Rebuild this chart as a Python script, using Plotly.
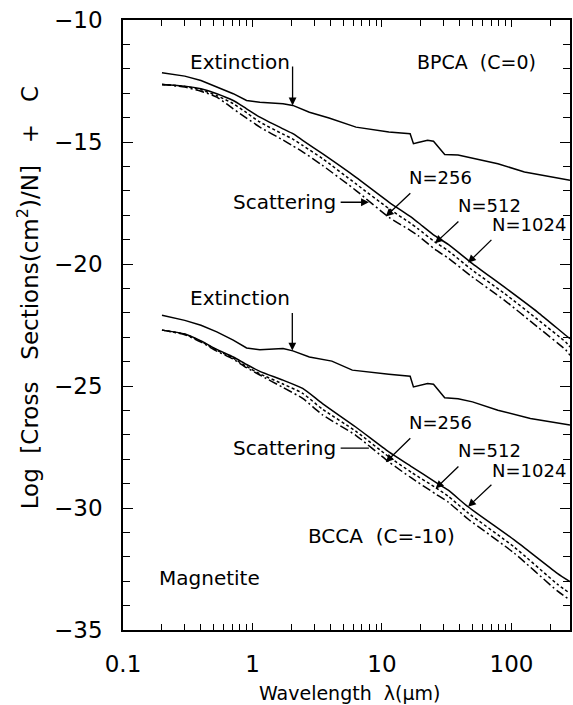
import numpy as np
import plotly.graph_objects as go

# ---- Magnetite aggregates: log10[cross section (cm^2) / N] + C ----
# BPCA (C = 0)
lam_ext_bpca = [0.2, 0.3, 0.4, 0.53, 0.71, 0.9, 1.14, 1.72, 2.05, 2.75, 3.9, 6.3, 11.3,
                16.5, 17.5, 19.0, 22.5, 25.0, 30.5, 38.7, 50.0, 78.5, 126.0, 283.0]
ext_bpca = [-12.16, -12.30, -12.48, -12.75, -13.02, -13.30, -13.37, -13.43, -13.50, -13.78,
            -14.02, -14.39, -14.59, -14.66, -15.07, -15.02, -14.93, -14.97, -15.51, -15.53,
            -15.65, -15.89, -16.23, -16.57]

lam_sca_bpca = [0.2, 0.3, 0.4, 0.53, 0.71, 0.9, 1.14, 1.72, 2.05, 2.44, 3.47, 6.27, 11.3,
                16.5, 19.0, 25.7, 32.5, 49.0, 88.4, 159.0, 262.0, 283.0]
sca_bpca_1024 = [-12.64, -12.71, -12.82, -13.02, -13.30, -13.64, -13.98, -14.46, -14.66, -14.93,
                 -15.48, -16.44, -17.46, -18.05, -18.30, -18.85, -19.20, -19.95, -20.95, -21.97,
                 -22.92, -23.06]
sca_bpca_512 = [-12.64, -12.72, -12.86, -13.10, -13.43, -13.80, -14.18, -14.68, -14.88, -15.14,
                -15.68, -16.71, -17.73, -18.32, -18.56, -19.10, -19.46, -20.22, -21.21, -22.27,
                -23.20, -23.40]
sca_bpca_256 = [-12.64, -12.75, -12.92, -13.16, -13.64, -14.02, -14.39, -14.92, -15.16, -15.40,
                -15.96, -16.98, -18.08, -18.62, -18.84, -19.40, -19.76, -20.50, -21.49, -22.58,
                -23.52, -23.74]

# BCCA (C = -10)
lam_ext_bcca = [0.2, 0.3, 0.4, 0.53, 0.71, 0.9, 1.14, 1.72, 2.05, 2.75, 4.1, 5.9, 11.3,
                16.5, 17.5, 19.0, 22.5, 25.0, 30.5, 38.7, 50.0, 78.5, 140.0, 283.0]
ext_bcca = [-22.10, -22.31, -22.51, -22.78, -23.12, -23.44, -23.51, -23.46, -23.56, -23.81,
            -23.98, -24.35, -24.52, -24.60, -25.04, -25.00, -24.90, -24.93, -25.48, -25.52,
            -25.65, -25.99, -26.33, -26.60]

lam_sca_bcca = [0.2, 0.3, 0.4, 0.53, 0.71, 0.9, 1.14, 1.72, 2.44, 3.47, 6.27, 11.3,
                17.0, 25.7, 32.5, 46.2, 105.0, 226.0, 283.0]
sca_bcca_1024 = [-22.71, -22.87, -23.15, -23.50, -23.81, -24.12, -24.40, -24.76, -25.10, -25.72,
                 -26.68, -27.70, -28.31, -28.93, -29.27, -29.95, -31.31, -32.68, -33.02]
sca_bcca_512 = [-22.71, -22.88, -23.17, -23.53, -23.86, -24.20, -24.50, -24.92, -25.30, -25.95,
                -26.85, -27.90, -28.55, -29.15, -29.52, -30.20, -31.60, -33.12, -33.50]
sca_bcca_256 = [-22.71, -22.90, -23.20, -23.57, -23.90, -24.25, -24.55, -25.06, -25.51, -26.18,
                -27.02, -28.11, -28.78, -29.41, -29.76, -30.45, -31.85, -33.40, -33.77]

# ---- axis ticks ----
x_major = [0.1, 1, 10, 100]
x_major_text = ["0.1", "1", "10", "100"]
x_minor = [m * d for d in (0.1, 1, 10) for m in range(2, 10)] + [200]
y_major = [-35, -30, -25, -20, -15, -10]
y_major_text = ["\u221235", "\u221230", "\u221225", "\u221220", "\u221215", "\u221210"]

FONT = "DejaVu Sans"
INK = "black"

fig = go.Figure()

dash_512 = "3px,2.5px"
dash_256 = "9px,3px,2px,3px"

def add_curve(lam, val, dash, smooth=True):
    fig.add_trace(go.Scatter(
        x=lam, y=val, mode="lines",
        line=dict(color=INK, width=1.5, dash=dash,
                  shape="spline" if smooth else "linear", smoothing=0.6 if smooth else 0),
        hoverinfo="skip", showlegend=False))

add_curve(lam_ext_bpca, ext_bpca, "solid", smooth=False)
add_curve(lam_sca_bpca, sca_bpca_1024, "solid")
add_curve(lam_sca_bpca, sca_bpca_512, dash_512)
add_curve(lam_sca_bpca, sca_bpca_256, dash_256)
add_curve(lam_ext_bcca, ext_bcca, "solid", smooth=False)
add_curve(lam_sca_bcca, sca_bcca_1024, "solid")
add_curve(lam_sca_bcca, sca_bcca_512, dash_512)
add_curve(lam_sca_bcca, sca_bcca_256, dash_256)

L = np.log10

# text labels: (text, wavelength, value, size)
labels = [
    ("Extinction", 0.8, -11.74, 20),
    ("BPCA  (C=0)", 53.3, -11.74, 19),
    ("Scattering", 1.77, -17.45, 20),
    ("N=256", 28.4, -16.45, 18),
    ("N=512", 67.8, -17.60, 18),
    ("N=1024", 136.0, -18.40, 18),
    ("Extinction", 0.8, -21.38, 20),
    ("Scattering", 1.77, -27.55, 20),
    ("N=256", 28.4, -26.50, 18),
    ("N=512", 67.8, -27.64, 18),
    ("N=1024", 136.0, -28.45, 18),
    ("BCCA  (C=-10)", 9.9, -31.15, 20),
    ("Magnetite", 0.468, -32.88, 20),
]
for text, lam, val, size in labels:
    fig.add_annotation(x=L(lam), y=val, xref="x", yref="y", text=text, showarrow=False,
                       xanchor="center", yanchor="middle",
                       font=dict(family=FONT, size=size, color=INK))

# pointers: (tail wavelength, tail value, tip wavelength, tip value, head style)
pointers = [
    (2.04, -11.84, 2.04, -13.50, 2),
    (4.67, -17.47, 7.92, -17.47, 2),
    (17.0, -17.04, 10.7, -18.05, 2),
    (40.0, -18.20, 25.7, -19.15, 2),
    (71.9, -18.95, 46.2, -19.95, 2),
    (2.03, -21.95, 2.03, -23.55, 2),
    (4.67, -27.55, 7.92, -27.55, 0),
    (17.0, -27.08, 10.7, -28.12, 2),
    (40.0, -28.24, 26.0, -29.20, 2),
    (71.9, -28.99, 46.2, -29.95, 2),
]
for lt, vt, lh, vh, head in pointers:
    fig.add_annotation(x=L(lh), y=vh, ax=L(lt), ay=vt, xref="x", yref="y",
                       axref="x", ayref="y", text="", showarrow=True,
                       arrowhead=head, arrowsize=1.2, arrowwidth=1.3, arrowcolor=INK,
                       standoff=0, startstandoff=0)

# axis titles
nb = "\u00a0"
fig.add_annotation(xref="paper", yref="paper", x=0.5056, y=-0.1028,
                   text="Wavelength  \u03bb(\u03bcm)", showarrow=False,
                   xanchor="center", yanchor="middle",
                   font=dict(family=FONT, size=19, color=INK))
fig.add_annotation(xref="paper", yref="paper", x=-0.213, y=0.545,
                   text=("Log" + nb * 2 + "[Cross" + nb * 3 + "Sections(cm<sup>2</sup>)/N]"
                         + nb * 3 + "+" + nb * 3 + "C"),
                   textangle=-90, showarrow=False, xanchor="center", yanchor="middle",
                   font=dict(family=FONT, size=23, color=INK))

axis_common = dict(showline=True, linecolor=INK, linewidth=1.5, mirror="allticks",
                   ticks="inside", tickcolor=INK, tickwidth=1.3, showgrid=False,
                   zeroline=False, tickfont=dict(family=FONT, size=23, color=INK))

fig.update_xaxes(type="log", range=[-1, 2.452], tickmode="array",
                 tickvals=x_major, ticktext=x_major_text, ticklen=7,
                 ticklabelstandoff=13,
                 minor=dict(tickmode="array", tickvals=x_minor, ticks="inside",
                            ticklen=6, tickcolor=INK, tickwidth=1.3, showgrid=False),
                 **axis_common)
fig.update_yaxes(range=[-35, -10], tickmode="array", tickvals=y_major,
                 ticktext=y_major_text, ticklen=10, ticklabelstandoff=14,
                 minor=dict(dtick=1, ticks="inside", ticklen=7, tickcolor=INK,
                            tickwidth=1.3, showgrid=False),
                 **axis_common)

fig.update_layout(width=573, height=705,
                  margin=dict(l=123, r=1, t=20, b=75),
                  paper_bgcolor="white", plot_bgcolor="white",
                  font=dict(family=FONT, color=INK), showlegend=False)

fig.write_html("out.html")
